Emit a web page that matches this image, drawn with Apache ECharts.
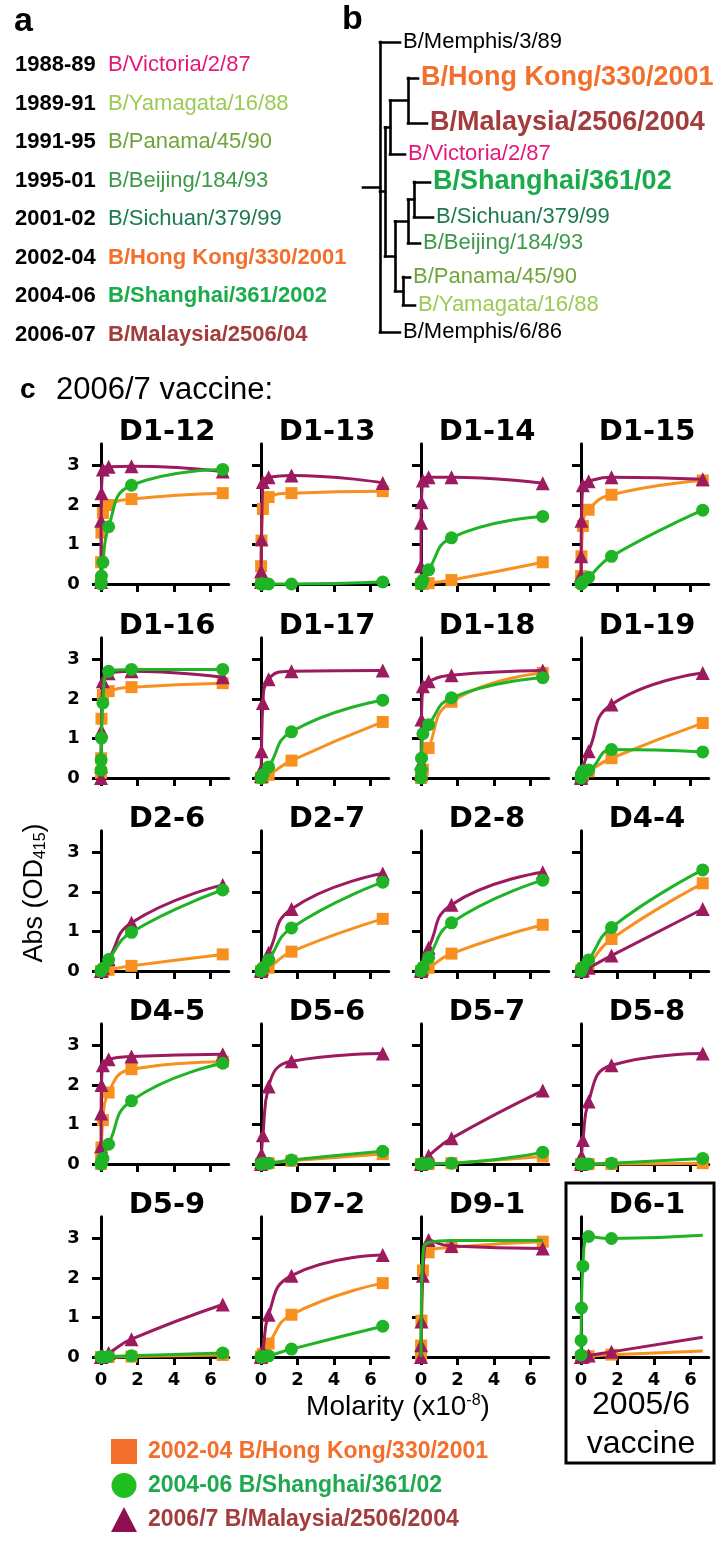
<!DOCTYPE html>
<html><head><meta charset="utf-8">
<script src="https://cdn.jsdelivr.net/npm/echarts@6/dist/echarts.min.js"></script>
<style>html,body{margin:0;padding:0;background:#fff}#c{width:728px;height:1541px}</style>
</head><body><div id="c"></div>
<script>
// ================= DATA =================
// panel a
const seasons = ['1988-89','1989-91','1991-95','1995-01','2001-02','2002-04','2004-06','2006-07'];
const vaccineStrains = ['B/Victoria/2/87','B/Yamagata/16/88','B/Panama/45/90','B/Beijing/184/93','B/Sichuan/379/99','B/Hong Kong/330/2001','B/Shanghai/361/2002','B/Malaysia/2506/04'];

// panel b (dendrogram)
const treeLeaves = ['B/Memphis/3/89','B/Hong Kong/330/2001','B/Malaysia/2506/2004','B/Victoria/2/87','B/Shanghai/361/02','B/Sichuan/379/99','B/Beijing/184/93','B/Panama/45/90','B/Yamagata/16/88','B/Memphis/6/86'];
const treeLeafRow = [42,78,123,154,182,217,243,277,305,332];
const treeBranches = {len:17, children:[
  {leaf:0,len:20},
  {len:5, children:[
    {len:5, children:[
      {len:18, children:[{leaf:1,len:10},{leaf:2,len:19}]},
      {leaf:3,len:15}
    ]},
    {len:10, children:[
      {len:13, children:[
        {len:6, children:[{leaf:4,len:16},{leaf:5,len:19}]},
        {leaf:6,len:12}
      ]},
      {len:8, children:[{leaf:7,len:7},{leaf:8,len:12}]}
    ]}
  ]},
  {leaf:9,len:20}
]};

// panel c
const concentration = [0.0016,0.0065,0.026,0.104,0.417,1.67,6.67]; // x10^-8 M
const antibodies = ['D1-12','D1-13','D1-14','D1-15','D1-16','D1-17','D1-18','D1-19','D2-6','D2-7','D2-8','D4-4','D4-5','D5-6','D5-7','D5-8','D5-9','D7-2','D9-1','D6-1'];
const seriesNames = ['2002-04 B/Hong Kong/330/2001','2004-06 B/Shanghai/361/02','2006/7 B/Malaysia/2506/2004'];
const hongKong = [
  [0.05,0.55,1.3,1.8,2.0,2.15,2.3],
  [0.05,0.45,1.1,1.9,2.2,2.3,2.35],
  [0,0,0,0,0.02,0.1,0.55],
  [0.05,0.2,0.7,1.47,1.88,2.26,2.62],
  [0.13,0.5,1.5,2.1,2.2,2.3,2.4],
  [0,0,0,0.02,0.08,0.44,1.42],
  [0,0,0.05,0.21,0.76,1.93,2.66],
  [0,0,0.02,0.06,0.17,0.5,1.39],
  [0,0,0,0,0.03,0.13,0.42],
  [0,0,0,0.02,0.08,0.49,1.32],
  [0,0,0,0.02,0.08,0.44,1.17],
  [0,0,0.02,0.06,0.17,0.81,2.22],
  [0,0.1,0.42,1.11,1.81,2.4,2.59],
  [0,0,0,0,0.02,0.08,0.25],
  [0,0,0,0,0,0.02,0.19],
  [0,0,0,0,0,0,0.02],
  [0,0,0,0,0,0.01,0.05],
  [0,0,0.02,0.08,0.34,1.07,1.87],
  [0,0.29,0.92,2.19,2.65,2.78,2.92],
  [0,0,0,0.01,0.02,0.06,0.15]
];
const shanghai = [
  [0,0.05,0.2,0.55,1.45,2.5,2.9],
  [0,0,0,0,0,0,0.05],
  [0,0.01,0.03,0.1,0.36,1.17,1.71],
  [0,0,0.02,0.06,0.17,0.7,1.87],
  [0.2,0.46,1.01,1.9,2.7,2.75,2.75],
  [0,0,0.03,0.08,0.28,1.17,1.97],
  [0,0.2,0.5,1.12,1.35,2.03,2.54],
  [0,0.03,0.1,0.18,0.2,0.72,0.66],
  [0,0,0.02,0.07,0.29,0.98,2.05],
  [0,0,0.02,0.08,0.28,1.09,2.25],
  [0,0,0.03,0.1,0.34,1.22,2.3],
  [0,0,0.03,0.1,0.28,1.1,2.56],
  [0,0,0.03,0.14,0.5,1.6,2.55],
  [0,0,0,0.01,0.02,0.1,0.32],
  [0,0,0,0,0.01,0.02,0.3],
  [0,0,0,0,0,0.02,0.14],
  [0,0,0,0,0.01,0.03,0.1],
  [0,0,0,0.01,0.03,0.2,0.78],
  [0,0.5,1.5,2.6,2.9,2.95,2.95],
  [0.05,0.42,1.24,2.3,3.05,3.0,3.08]
];
const malaysia = [
  [0.05,1.6,2.3,2.9,2.97,2.98,2.85],
  [0.05,0.32,1.13,2.58,2.7,2.75,2.56],
  [0.45,1.55,2.07,2.62,2.7,2.7,2.55],
  [0.23,0.7,1.6,2.5,2.6,2.7,2.65],
  [0,0.3,1.2,2.45,2.65,2.7,2.55],
  [0.05,0.2,0.68,1.9,2.5,2.7,2.72],
  [0.1,0.38,1.48,2.32,2.45,2.6,2.72],
  [0,0.02,0.08,0.25,0.68,1.86,2.66],
  [0,0,0.02,0.08,0.3,1.22,2.18],
  [0,0.02,0.05,0.15,0.46,1.57,2.47],
  [0,0.02,0.06,0.2,0.59,1.68,2.5],
  [0,0,0,0.02,0.08,0.39,1.57],
  [0.44,1.28,2.0,2.5,2.65,2.72,2.78],
  [0,0.05,0.25,0.73,1.96,2.6,2.8],
  [0,0,0.02,0.06,0.21,0.65,1.86],
  [0,0.06,0.2,0.61,1.58,2.5,2.8],
  [0,0,0.01,0.03,0.1,0.45,1.33],
  [0,0.02,0.05,0.16,1.07,2.06,2.58],
  [0,0.3,0.9,2.06,2.96,2.81,2.75],
  [0,0,0,0.01,0.04,0.13,0.5]
];
const xTicks = [0,2,4,6];
const yTicks = [0,1,2,3];

// ================= STYLE / LAYOUT =================
const REG = '"Liberation Sans", Arial, sans-serif';
const WIDE = '"DejaVu Sans", sans-serif';
const strainColors = ['#e4187b','#9bcb55','#6fa43a','#3b9a49','#1c7a52','#f26f2c','#1aab4b','#a33c3c'];
const strainBold = [false,false,false,false,false,true,true,true];
const leafColors = ['#000','#f26f2c','#a33c3c','#e4187b','#1aab4b','#1c7a52','#3b9a49','#6fa43a','#9bcb55','#000'];
const leafBold = [false,true,true,false,true,false,false,false,false,false];

const C_OR = '#f7901e', C_GR = '#1fb425', C_PU = '#9c1a5e';
const PX = 18.25, PY = 39.5;
const colX = [101,261,421,581];
const rowY0 = [584,778,971,1164,1357];
const X_MIN=-0.4, X_MAX=7, Y_MIN=-0.1, Y_MAX=3.55;

const grids=[], xAxes=[], yAxes=[], series=[], graphics=[];

function txt(x,y,text,font,color,align,extra){
  return Object.assign({type:'text', x, y, silent:true, style:{text, font, fill:color||'#000',
    align:align||'left', textAlign:align||'left', verticalAlign:'middle', textVerticalAlign:'middle'}}, extra||{});
}

// panel a
graphics.push(txt(14,22,'a','bold 34px '+REG,'#000'));
seasons.forEach((s,i)=>{
  const y = 65 + i*38.5;
  graphics.push(txt(15,y,s,'bold 22px '+REG,'#000'));
  graphics.push(txt(108,y,vaccineStrains[i],(strainBold[i]?'bold ':'')+'22px '+REG,strainColors[i]));
});
// panel b label
graphics.push(txt(342,20,'b','bold 34px '+REG,'#000'));

// panel c header
graphics.push(txt(20,390,'c','bold 28px '+REG,'#000'));
graphics.push(txt(56,390,'2006/7 vaccine:','31px '+REG,'#000'));

// small panels
antibodies.forEach((name,i)=>{
  const r=Math.floor(i/4), c=i%4;
  grids.push({left: colX[c]+X_MIN*PX, top: rowY0[r]-Y_MAX*PY, width:(X_MAX-X_MIN)*PX, height:(Y_MAX-Y_MIN)*PY});
  const lbl = {fontFamily:WIDE, fontWeight:'bold', fontSize:18, color:'#000'};
  xAxes.push({gridIndex:i, type:'value', min:X_MIN, max:X_MAX,
    axisLine:{onZero:true, lineStyle:{color:'#000', width:3}},
    axisTick:{show:true, length:8, customValues:xTicks, lineStyle:{color:'#000', width:3}},
    axisLabel:Object.assign({show:r===4, customValues:xTicks, margin:10}, lbl),
    splitLine:{show:false}});
  yAxes.push({gridIndex:i, type:'value', min:Y_MIN, max:Y_MAX,
    axisLine:{onZero:true, lineStyle:{color:'#000', width:3}},
    axisTick:{show:true, length:9, customValues:yTicks, lineStyle:{color:'#000', width:3}},
    axisLabel:Object.assign({show:c===0, customValues:yTicks, margin:14}, lbl),
    splitLine:{show:false}});
  graphics.push(txt(colX[c]+66, rowY0[r]-152, name, 'bold 29px '+WIDE, '#000', 'center'));
  const defs = [
    {n:seriesNames[0], d:hongKong[i], col:C_OR, sym:'rect', size:12, z:2},
    {n:seriesNames[2], d:malaysia[i], col:C_PU, sym:'triangle', size:14, z:3},
    {n:seriesNames[1], d:shanghai[i], col:C_GR, sym:'circle', size:13, z:4}
  ];
  const lastUnmarked = (name==='D6-1');
  defs.forEach(s=>{
    series.push({name:s.n, type:'line', xAxisIndex:i, yAxisIndex:i,
      data: concentration.map((x,k)=>{
        const item = {value:[x, s.d[k]]};
        if (lastUnmarked && k===concentration.length-1) item.symbol = 'none';
        return item;
      }),
      smooth:0.5, symbol:s.sym, symbolSize:s.size,
      showSymbol: !(name==='D9-1' && s.col===C_GR),
      lineStyle:{color:s.col, width:3}, itemStyle:{color:s.col},
      clip:false, z:s.z, animation:false, silent:true});
  });
});

// tree grid
const TI = antibodies.length;
grids.push({left:363, top:0, width:100, height:400});
xAxes.push({gridIndex:TI, type:'value', min:0, max:100, show:false});
yAxes.push({gridIndex:TI, type:'value', min:0, max:400, inverse:true, show:false});
function layoutTree(n, x0){
  n.x = x0 + n.len;
  if (n.children){ n.children.forEach(ch=>layoutTree(ch, n.x)); n.y = (n.children[0].y + n.children[n.children.length-1].y)/2; }
  else n.y = treeLeafRow[n.leaf];
}
layoutTree(treeBranches, 0);
const edges = [{coords:[[0,treeBranches.y],[treeBranches.x,treeBranches.y]]}];
const leafPos = [];
(function walk(n){
  if (n.children){
    edges.push({coords:[[n.x,n.children[0].y],[n.x,n.children[n.children.length-1].y]]});
    n.children.forEach(ch=>{ edges.push({coords:[[n.x,ch.y],[ch.x,ch.y]]}); walk(ch); });
  } else leafPos[n.leaf] = [n.x, n.y];
})(treeBranches);
series.push({type:'lines', coordinateSystem:'cartesian2d', xAxisIndex:TI, yAxisIndex:TI, polyline:false,
  data:edges, lineStyle:{color:'#000', width:2.6, opacity:1, curveness:0, cap:'square'}, silent:true, animation:false});
series.push({type:'scatter', xAxisIndex:TI, yAxisIndex:TI, symbolSize:0.1, itemStyle:{color:'rgba(0,0,0,0)', opacity:1}, silent:true, animation:false,
  data: treeLeaves.map((nm,k)=>({value:leafPos[k], name:nm,
    label:{show:true, position:'right', distance:3, formatter:'{b}', color:leafColors[k], opacity:1,
      fontFamily:REG, fontWeight: leafBold[k]?'bold':'normal', fontSize: leafBold[k]?27:22}}))});

// axis titles
graphics.push({type:'text', x:35, y:893, rotation:Math.PI/2, silent:true,
  style:{text:'{a|Abs (OD}{s|415}{a|)}', align:'center', textAlign:'center', verticalAlign:'middle', textVerticalAlign:'middle',
    rich:{a:{font:'27px '+REG, fill:'#000', color:'#000'}, s:{font:'16px '+REG, fill:'#000', color:'#000', verticalAlign:'bottom', padding:[8,0,0,0]}}}});
graphics.push({type:'text', x:398, y:1407, silent:true,
  style:{text:'{a|Molarity (x10}{s|-8}{a|)}', align:'center', textAlign:'center', verticalAlign:'middle', textVerticalAlign:'middle',
    rich:{a:{font:'28px '+REG, fill:'#000', color:'#000'}, s:{font:'16px '+REG, fill:'#000', color:'#000', verticalAlign:'top', padding:[0,0,10,0]}}}});

// D6-1 box + note
graphics.push({type:'rect', shape:{x:566, y:1183, width:148, height:280}, silent:true, style:{fill:'none', stroke:'#000', lineWidth:3}});
graphics.push(txt(641,1405,'2005/6','32px '+REG,'#000','center'));
graphics.push(txt(641,1444,'vaccine','32px '+REG,'#000','center'));

const option = {
  animation:false,
  backgroundColor:'#fff',
  grid:grids, xAxis:xAxes, yAxis:yAxes, series,
  legend:{orient:'vertical', left:106, top:1434, itemWidth:26, itemHeight:25, itemGap:9, selectedMode:false,
    textStyle:{fontFamily:REG, fontWeight:'bold', fontSize:23, padding:[0,0,0,6]},
    data:[
      {name:seriesNames[0], icon:'rect', itemStyle:{color:'#f26f2c'}, lineStyle:{opacity:0, width:0}, textStyle:{color:'#f26f2c'}},
      {name:seriesNames[1], icon:'circle', itemStyle:{color:'#1fbf1f'}, lineStyle:{opacity:0, width:0}, textStyle:{color:'#1fa84f'}},
      {name:seriesNames[2], icon:'triangle', itemStyle:{color:'#8f1050'}, lineStyle:{opacity:0, width:0}, textStyle:{color:'#a33c3c'}}
    ]},
  graphic:{elements:graphics}
};
const chart = echarts.init(document.getElementById('c'), null, {renderer:'canvas'});
chart.setOption(option);
</script></body></html>
